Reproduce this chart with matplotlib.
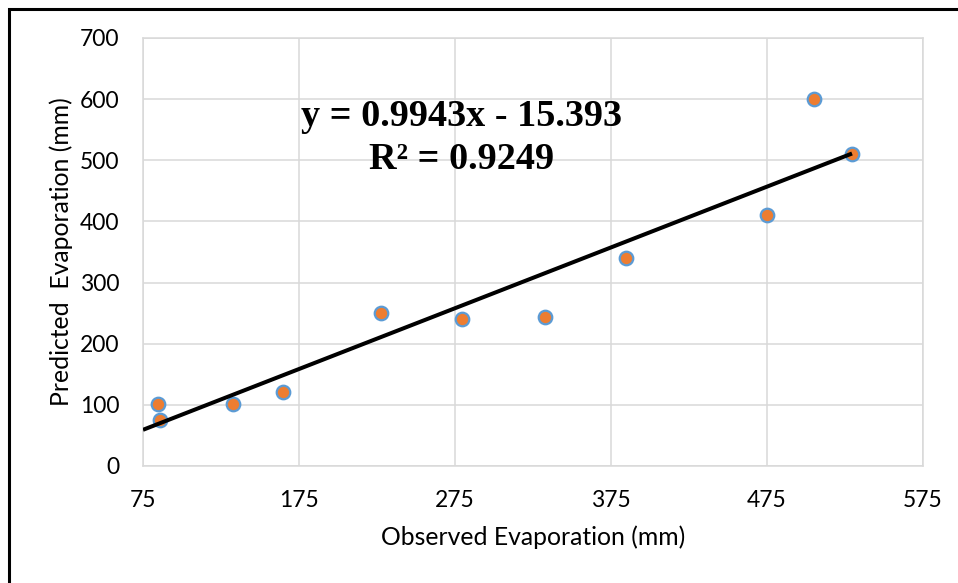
import matplotlib
matplotlib.use("Agg")
import matplotlib.pyplot as plt
import numpy as np
from matplotlib.patches import Rectangle

observed = [84.4, 85.9, 132.5, 164.9, 227.6, 279.7, 332.5, 384.6, 475.0, 505.0, 529.5]
predicted = [102, 76, 101, 120.5, 250, 240, 243, 340, 410, 600, 510.5]
slope = 0.9943
intercept = -15.393
eq_text = "y = 0.9943x - 15.393"
r2_text = "R² = 0.9249"
x_ticks = [75, 175, 275, 375, 475, 575]
y_ticks = [0, 100, 200, 300, 400, 500, 600, 700]
x_label = "Observed Evaporation (mm)"
y_label = "Predicted  Evaporation (mm)"

W, H = 958, 583
fig = plt.figure(figsize=(W / 100, H / 100), dpi=100)
fig.patch.set_facecolor("white")

# outer frame (top and left edges visible)
fig.add_artist(Rectangle((9 / W, -0.1), 1.2, (H - 9) / H + 0.1, transform=fig.transFigure,
                         fill=False, edgecolor="black", linewidth=2.2))

ax = fig.add_axes([143 / W, (H - 466) / H, (923 - 143) / W, (466 - 38) / H])
ax.set_xlim(75, 575)
ax.set_ylim(0, 700)
ax.set_xticks(x_ticks)
ax.set_yticks(y_ticks)
ax.grid(True, color="#D9D9D9", linewidth=1.1)
ax.set_axisbelow(True)
for s in ax.spines.values():
    s.set_color("#D9D9D9")
    s.set_linewidth(1.1)
ax.tick_params(length=0, labelsize=16.5, labelcolor="#000000")
for lab in ax.get_xticklabels() + ax.get_yticklabels():
    lab.set_family("Lato")
ax.tick_params(axis="x", pad=17)
ax.tick_params(axis="y", pad=17)

ax.scatter(observed, predicted, s=95, color="#ED7D31", edgecolor="#5B9BD5",
           linewidth=1.6, zorder=3)

xl = np.array([75, max(observed)])
ax.plot(xl, slope * xl + intercept, color="black", linewidth=2.9, zorder=4,
        solid_capstyle="butt")

ax.text(279, 537, eq_text + "\n" + r2_text, ha="center", va="center",
        family="Liberation Serif", fontweight="bold", fontsize=27.5, linespacing=1.3,
        zorder=5)

fig.text(533 / W, 1 - 537 / H, x_label, ha="center", va="center",
         family="Lato", fontsize=17.8)
fig.text(61 / W, 1 - 252 / H, y_label, ha="center", va="center", rotation=90,
         family="Lato", fontsize=17.8)

fig.savefig("out.png", dpi=100, facecolor="white")
